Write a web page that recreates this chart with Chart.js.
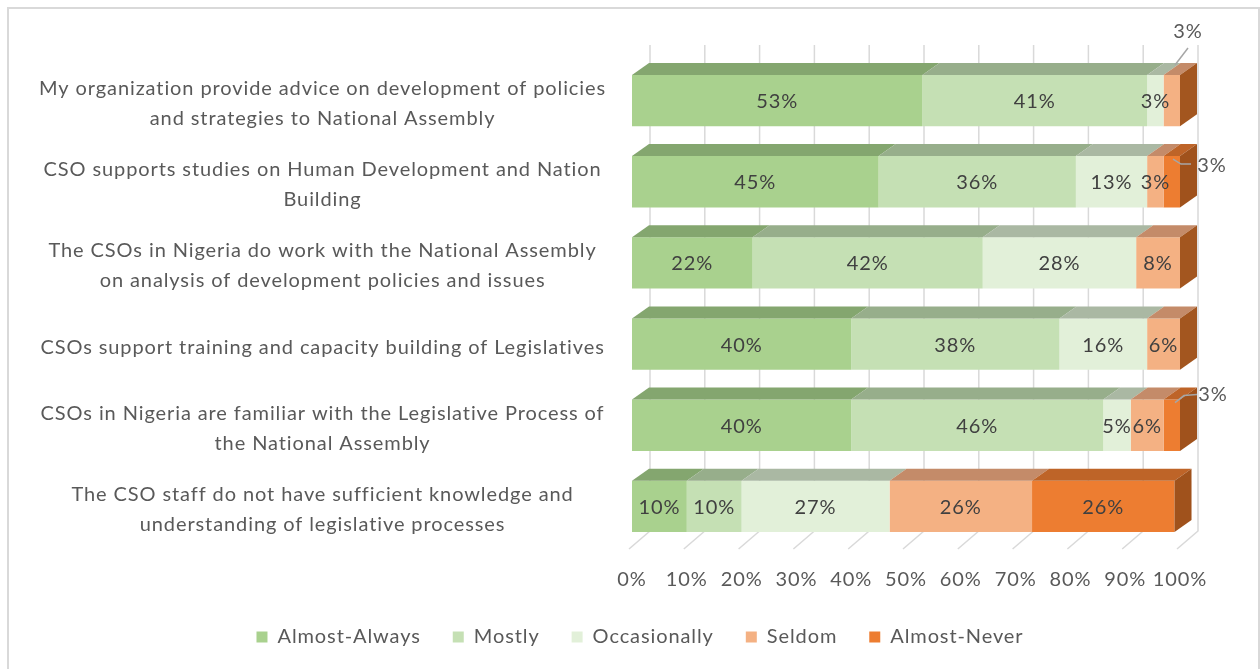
<!DOCTYPE html>
<html>
<head>
<meta charset="utf-8">
<script src="https://cdn.jsdelivr.net/npm/chart.js@4/dist/chart.umd.min.js"></script>
<style>
html,body{margin:0;padding:0;background:#fff;}
#wrap{position:relative;width:1260px;height:669px;}
</style>
</head>
<body>
<div id="wrap"><canvas id="c" width="1260" height="669"></canvas></div>
<script>
// ---------- data ----------
const categories = [
  ["My organization provide advice on development of policies", "and strategies to National Assembly"],
  ["CSO supports studies on Human Development and Nation", "Building"],
  ["The CSOs in Nigeria do work with the National Assembly", "on analysis of development policies and issues"],
  ["CSOs support training and capacity building of Legislatives"],
  ["CSOs in Nigeria are familiar with the Legislative Process of", "the National Assembly"],
  ["The CSO staff do not have sufficient knowledge and", "understanding of legislative processes"]
];
const seriesNames = ["Almost-Always", "Mostly", "Occasionally", "Seldom", "Almost-Never"];
const almostAlways = [53, 45, 22, 40, 40, 10];
const mostly       = [41, 36, 42, 38, 46, 10];
const occasionally = [3, 13, 28, 16, 5, 27];
const seldom       = [3, 3, 8, 6, 6, 26];
const almostNever  = [0, 3, 0, 0, 3, 26];
const xTickValues  = [0, 10, 20, 30, 40, 50, 60, 70, 80, 90, 100];

// ---------- styles ----------
const frontColors = ["#A9D18E", "#C5E0B4", "#E2F0D9", "#F4B183", "#ED7D31"];
const topColors   = ["#84A66F", "#97AE8B", "#AAB8A3", "#C48B69", "#BE6428"];
const sideColors  = ["#6F8F5B", "#8AA07E", "#9AA893", "#A3561F", "#A0521C"];
const FONT = "Lato";
const FONT_SIZE = 20;
const LETTER_SPACING = "0.9px";
const DX = 17, DY = -12;          // bar depth
const WALL_DX = 18, WALL_TOP = -15, WALL_BOTTOM = -16, FLOOR_DX = -3, FLOOR_DY = 2;

// callout labels for small segments: key "row-dataset"
const callouts = {
  "0-3": { lx: 8,  ly: -43, path: [[-5, -10], [8, -27]] },
  "1-4": { lx: 32, ly: 9,   path: [[-7, 3], [1, 8], [11, 8]] },
  "4-4": { lx: 33, ly: -5,  path: [[-5, 3], [4, -4], [17, -5]] }
};

const seriesValues = [almostAlways, mostly, occasionally, seldom, almostNever];

const spacingPlugin = {
  id: "spacing",
  beforeUpdate(chart) { chart.ctx.letterSpacing = LETTER_SPACING; },
  beforeLayout(chart) { chart.ctx.letterSpacing = LETTER_SPACING; },
  beforeDraw(chart) { chart.ctx.letterSpacing = LETTER_SPACING; }
};

const bgPlugin = {
  id: "bg",
  beforeDraw(chart) {
    const ctx = chart.ctx;
    ctx.save();
    ctx.fillStyle = "#fff";
    ctx.fillRect(0, 0, chart.width, chart.height);
    ctx.strokeStyle = "#D9D9D9";
    ctx.lineWidth = 2;
    ctx.strokeRect(8, 8, 1251, 700);
    ctx.restore();
  }
};

const gridPlugin = {
  id: "grid3d",
  beforeDatasetsDraw(chart) {
    const ctx = chart.ctx, xs = chart.scales.x, ca = chart.chartArea;
    ctx.save();
    ctx.strokeStyle = "#D9D9D9";
    ctx.lineWidth = 1.5;
    xTickValues.forEach(v => {
      const xf = xs.getPixelForValue(v);
      const xb = xf + WALL_DX;
      ctx.beginPath();
      ctx.moveTo(xb, ca.top + WALL_TOP);
      ctx.lineTo(xb, ca.bottom + WALL_BOTTOM);
      ctx.lineTo(xf + FLOOR_DX, ca.bottom + FLOOR_DY);
      ctx.stroke();
    });
    ctx.restore();
  }
};

const facePlugin = {
  id: "faces",
  afterDatasetsDraw(chart) {
    const ctx = chart.ctx;
    const n = categories.length;
    ctx.save();
    chart.data.datasets.forEach((ds, di) => {
      const meta = chart.getDatasetMeta(di);
      meta.data.forEach((el, ri) => {
        if (!(ds.data[ri] > 0)) return;
        const x1 = Math.min(el.base, el.x), x2 = Math.max(el.base, el.x);
        const yt = el.y - el.height / 2;
        ctx.fillStyle = topColors[di];
        ctx.beginPath();
        ctx.moveTo(x1, yt);
        ctx.lineTo(x2, yt);
        ctx.lineTo(x2 + DX, yt + DY);
        ctx.lineTo(x1 + DX, yt + DY);
        ctx.closePath();
        ctx.fill();
      });
    });
    for (let ri = 0; ri < n; ri++) {
      let last = -1;
      chart.data.datasets.forEach((ds, di) => { if (ds.data[ri] > 0) last = di; });
      if (last < 0) continue;
      const el = chart.getDatasetMeta(last).data[ri];
      const x2 = Math.max(el.base, el.x);
      const yt = el.y - el.height / 2, yb = el.y + el.height / 2;
      ctx.fillStyle = sideColors[last];
      ctx.beginPath();
      ctx.moveTo(x2, yt);
      ctx.lineTo(x2 + DX, yt + DY);
      ctx.lineTo(x2 + DX, yb + DY);
      ctx.lineTo(x2, yb);
      ctx.closePath();
      ctx.fill();
    }
    ctx.font = FONT_SIZE + "px " + FONT;
    ctx.letterSpacing = LETTER_SPACING;
    ctx.textBaseline = "middle";
    ctx.textAlign = "center";
    chart.data.datasets.forEach((ds, di) => {
      const meta = chart.getDatasetMeta(di);
      meta.data.forEach((el, ri) => {
        const v = ds.data[ri];
        if (!(v > 0)) return;
        const txt = v + "%";
        const x1 = Math.min(el.base, el.x), x2 = Math.max(el.base, el.x);
        const yt = el.y - el.height / 2;
        const co = callouts[ri + "-" + di];
        if (co) {
          ctx.strokeStyle = "#A6A6A6";
          ctx.lineWidth = 1.5;
          ctx.beginPath();
          co.path.forEach((p, k) => {
            if (k === 0) ctx.moveTo(x2 + p[0], yt + p[1]);
            else ctx.lineTo(x2 + p[0], yt + p[1]);
          });
          ctx.stroke();
          ctx.fillStyle = "#595959";
          ctx.fillText(txt, x2 + co.lx, yt + co.ly);
        } else {
          ctx.fillStyle = "#404040";
          ctx.fillText(txt, (x1 + x2) / 2, el.y + 1);
        }
      });
    });
    ctx.restore();
  }
};

new Chart(document.getElementById("c"), {
  type: "bar",
  data: {
    labels: categories,
    datasets: seriesNames.map((name, i) => ({
      label: name,
      data: seriesValues[i],
      backgroundColor: frontColors[i],
      borderWidth: 0,
      barPercentage: 0.632,
      categoryPercentage: 1
    }))
  },
  options: {
    responsive: false,
    animation: false,
    devicePixelRatio: 1,
    indexAxis: "y",
    layout: { padding: { top: 60, left: 20, right: 0, bottom: 12 } },
    scales: {
      x: {
        type: "linear",
        stacked: true,
        min: 0,
        max: 100,
        grid: { display: false },
        border: { display: false },
        afterBuildTicks: s => { s.ticks = xTickValues.map(v => ({ value: v })); },
        ticks: {
          callback: v => v + "%",
          color: "#595959",
          font: { family: FONT, size: FONT_SIZE },
          padding: 13,
          maxRotation: 0,
          autoSkip: false
        },
        afterFit: s => { s.height = 48; }
      },
      y: {
        type: "category",
        stacked: true,
        grid: { display: false, drawTicks: false },
        border: { display: false },
        ticks: {
          crossAlign: "center",
          padding: 26,
          color: "#595959",
          font: { family: FONT, size: FONT_SIZE, lineHeight: 1.5 },
          labelOffset: 3,
          autoSkip: false
        },
        afterFit: s => { s.width = 612; }
      },
      y2: {
        type: "category",
        axis: "y",
        position: "right",
        display: true,
        grid: { display: false, drawTicks: false },
        border: { display: false },
        ticks: { display: false },
        afterFit: s => { s.width = 80; }
      }
    },
    plugins: {
      legend: {
        position: "bottom",
        labels: {
          boxWidth: 11,
          boxHeight: 11,
          padding: 32,
          color: "#595959",
          font: { family: FONT, size: FONT_SIZE }
        }
      },
      tooltip: { enabled: false }
    }
  },
  plugins: [spacingPlugin, bgPlugin, gridPlugin, facePlugin]
});
</script>
</body>
</html>
